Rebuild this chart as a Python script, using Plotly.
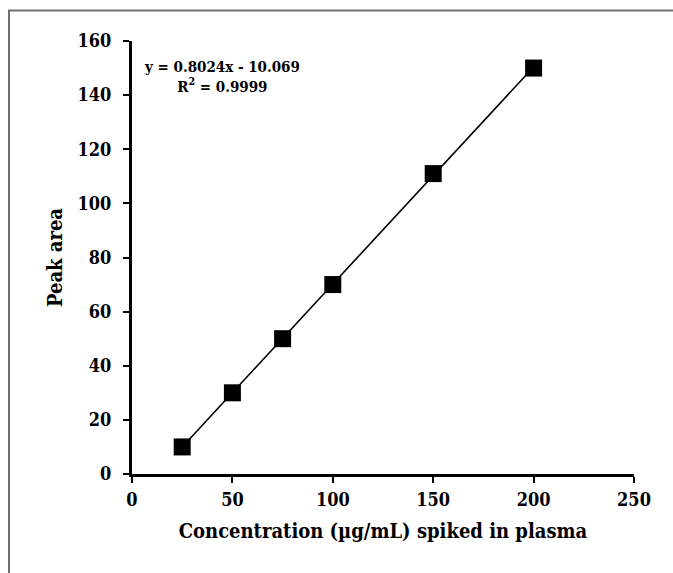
import plotly.graph_objects as go

concentration = [25, 50, 75, 100, 150, 200]
peak_area = [10, 30, 50, 70, 111, 150]
slope = 0.8024
intercept = -10.069
r_squared = 0.9999

x_ticks = [0, 50, 100, 150, 200, 250]
y_ticks = [0, 20, 40, 60, 80, 100, 120, 140, 160]

fit_x = [min(concentration), max(concentration)]
fit_y = [slope * v + intercept for v in fit_x]

FONT = "DejaVu Serif Condensed, DejaVu Serif, Liberation Serif, serif"

fig = go.Figure()
fig.add_trace(go.Scatter(x=fit_x, y=fit_y, mode="lines",
                         line=dict(color="black", width=1.6),
                         hoverinfo="skip", showlegend=False))
fig.add_trace(go.Scatter(x=concentration, y=peak_area, mode="markers",
                         marker=dict(symbol="square", size=17, color="black"),
                         showlegend=False))

W, H = 673, 573
L, R, T, B = 132, 39, 41, 99
pw, ph = W - L - R, H - T - B

def px(x):
    return (x - L) / pw

def py(y):
    return (H - B - y) / ph

fig.add_shape(type="rect", xref="paper", yref="paper",
              x0=px(9), x1=px(W + 20), y0=py(H + 20), y1=py(10.5),
              line=dict(color="#707070", width=2), fillcolor="rgba(0,0,0,0)",
              layer="below")

sign = "-" if intercept < 0 else "+"
fig.add_annotation(xref="paper", yref="paper", x=px(222), y=py(77),
                   xanchor="center", yanchor="middle",
                   text=f"y = {slope}x {sign} {abs(intercept):.3f}<br>R<sup>2</sup> = {r_squared}",
                   showarrow=False, align="center",
                   font=dict(family=FONT, size=15, color="black", weight="bold"))

fig.update_layout(
    width=W, height=H,
    margin=dict(l=L, r=R, t=T, b=B),
    paper_bgcolor="white", plot_bgcolor="white",
    font=dict(family=FONT, color="black", weight="bold"),
    xaxis=dict(range=[0, 250], tickvals=x_ticks, ticktext=[str(v) for v in x_ticks],
               showgrid=False, zeroline=False, showline=True, linecolor="black",
               linewidth=3, ticks="outside", ticklen=6, tickwidth=2, tickcolor="black",
               ticklabelstandoff=1,
               tickfont=dict(family=FONT, size=18, weight="bold"),
               title=dict(text="Concentration (µg/mL) spiked in plasma",
                          font=dict(family=FONT, size=20, weight="bold"), standoff=16)),
    yaxis=dict(range=[0, 160], tickvals=y_ticks, ticktext=[str(v) for v in y_ticks],
               showgrid=False, zeroline=False, showline=True, linecolor="black",
               linewidth=3, ticks="outside", ticklen=6, tickwidth=2, tickcolor="black",
               ticklabelstandoff=8,
               tickfont=dict(family=FONT, size=18, weight="bold"),
               title=dict(text="Peak area",
                          font=dict(family=FONT, size=20, weight="bold"), standoff=10)),
)

fig.write_html("out.html", config={"displayModeBar": False},
               post_script="document.body.style.margin='0px';document.body.style.overflow='hidden';")
